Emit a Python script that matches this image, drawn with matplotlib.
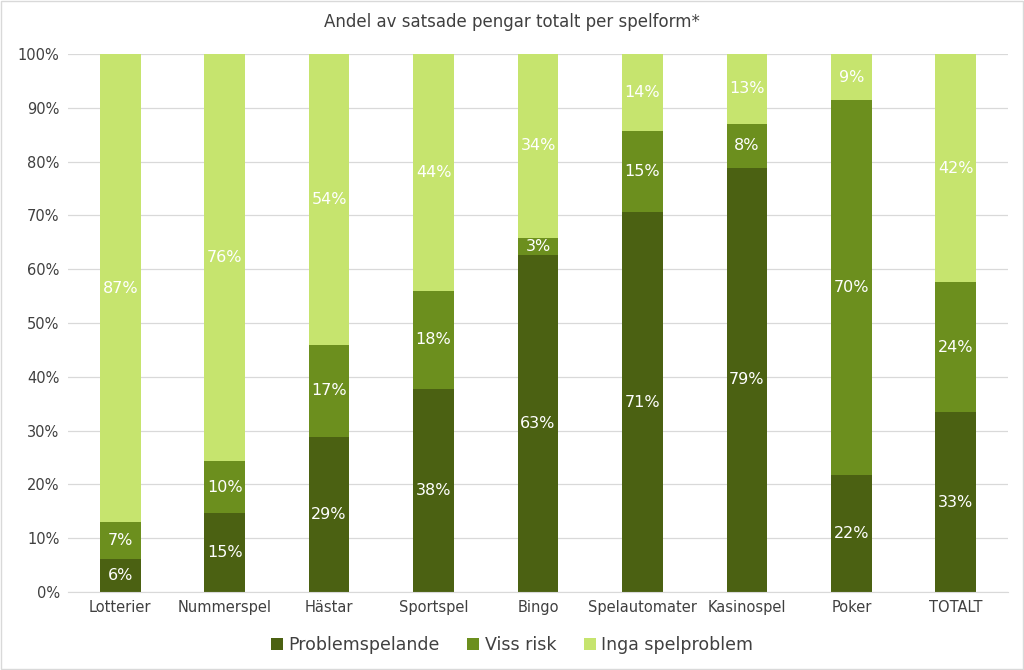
import numpy as np
import matplotlib.pyplot as plt
from matplotlib.patches import Rectangle

categories = ["Lotterier", "Nummerspel", "Hästar", "Sportspel", "Bingo",
              "Spelautomater", "Kasinospel", "Poker", "TOTALT"]
problem = [6.2, 14.6, 28.9, 37.8, 62.7, 70.6, 78.9, 21.8, 33.4]
viss_risk = [6.8, 9.8, 17.1, 18.1, 3.1, 15.0, 8.1, 69.6, 24.2]
inga = [87.0, 75.6, 54.0, 44.1, 34.2, 14.4, 13.0, 8.6, 42.4]
series_names = ["Problemspelande", "Viss risk", "Inga spelproblem"]
colors = ["#4b6112", "#6c8f1e", "#c6e46e"]

plt.rcParams['font.family'] = ['Verdana', 'DejaVu Sans']

fig = plt.figure(figsize=(10.24, 6.7), dpi=100)
ax = fig.add_axes([68 / 1024, 1 - 592 / 670, 940 / 1024, 538 / 670])

x = np.arange(len(categories))
bottom = np.zeros(len(categories))
for vals, name, col in zip([problem, viss_risk, inga], series_names, colors):
    vals = np.array(vals)
    bars = ax.bar(x, vals, 0.39, bottom=bottom, color=col, label=name, zorder=2)
    for xi, b, v in zip(x, bottom, vals):
        ax.text(xi, b + v / 2, f"{v:.0f}%", ha='center', va='center',
                color='white', fontsize=11.5, zorder=3)
    bottom += vals

ax.set_xlim(-0.5, len(categories) - 0.5)
ax.set_ylim(0, 100)
ax.set_yticks(np.arange(0, 101, 10))
ax.set_yticklabels([f"{t}%" for t in range(0, 101, 10)])
ax.set_xticks(x)
ax.set_xticklabels(categories)
ax.tick_params(axis='both', length=0, labelsize=10.5, colors='#404040', pad=6)
ax.yaxis.grid(True, color='#d9d9d9', linewidth=0.9, zorder=0)
ax.set_axisbelow(True)
for side in ['top', 'right', 'left']:
    ax.spines[side].set_visible(False)
ax.spines['bottom'].set_color('#d9d9d9')

fig.text(0.5, 1 - 22 / 670, "Andel av satsade pengar totalt per spelform*",
         ha='center', va='center', fontsize=12, color='#404040')

ax.legend(loc='center', bbox_to_anchor=(0.5 * 1024 / 940 - 68 / 940, -(645 - 592) / 538),
          ncol=3, frameon=False, fontsize=12.5, handlelength=0.7, handleheight=0.7,
          handletextpad=0.3, columnspacing=1.6, labelcolor='#404040')

fig.patches.append(Rectangle((0.001, 0.001), 0.998, 0.998, transform=fig.transFigure,
                             fill=False, edgecolor='#d9d9d9', linewidth=1))

fig.savefig("out.png", dpi=100)
